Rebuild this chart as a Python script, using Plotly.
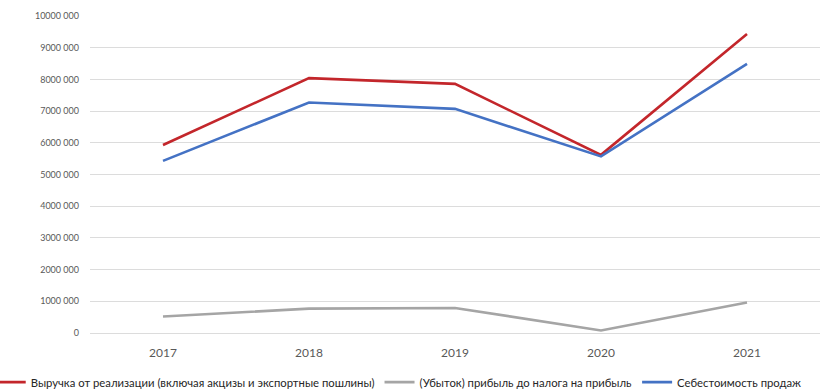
import plotly.graph_objects as go

years = ["2017", "2018", "2019", "2020", "2021"]
revenue = [5930000, 8040000, 7860000, 5620000, 9430000]
profit = [520000, 770000, 790000, 80000, 960000]
cost = [5430000, 7270000, 7070000, 5570000, 8490000]

names = [
    "Выручка от реализации (включая акцизы и экспортные пошлины)",
    "(Убыток) прибыль до налога на прибыль",
    "Себестоимость продаж",
]
colors = ["#C3262B", "#A5A5A5", "#4472C4"]

tick_vals = [i * 1000000 for i in range(11)]
tick_text = ["0", "1000 000", "2000 000", "3000 000", "4000 000", "5000 000",
             "6000 000", "7000 000", "8000 000", "9000 000", "10000 000"]

fig = go.Figure()
for name, vals, c in zip(names, [revenue, profit, cost], colors):
    fig.add_trace(go.Scatter(x=years, y=vals, name=name, mode="lines",
                             line=dict(color=c, width=2.6)))

fig.update_layout(
    width=832, height=392,
    margin=dict(l=90, r=12, t=16, b=59, autoexpand=False),
    paper_bgcolor="white", plot_bgcolor="white",
    font=dict(family="Lato, Open Sans, sans-serif", color="#404040"),
    legend=dict(orientation="h", x=-0.136, xanchor="left", y=-0.155, yanchor="middle",
                font=dict(size=11.3, color="#262626"), itemwidth=30,
                tracegroupgap=0),
    showlegend=True,
)
fig.update_xaxes(type="category", range=[-0.5, 4.5], showgrid=False, showline=False,
                 ticks="", ticklabelstandoff=11,
                 tickfont=dict(size=12, color="#595959"))
fig.update_yaxes(range=[0, 10000000], tickvals=tick_vals, ticktext=tick_text,
                 showgrid=True, gridcolor="#DCDCDC", gridwidth=1,
                 zeroline=True, zerolinecolor="#DCDCDC", zerolinewidth=1,
                 showline=False, ticks="", ticklabelstandoff=10,
                 tickfont=dict(size=9, color="#595959"))
fig.write_html("out.html")
